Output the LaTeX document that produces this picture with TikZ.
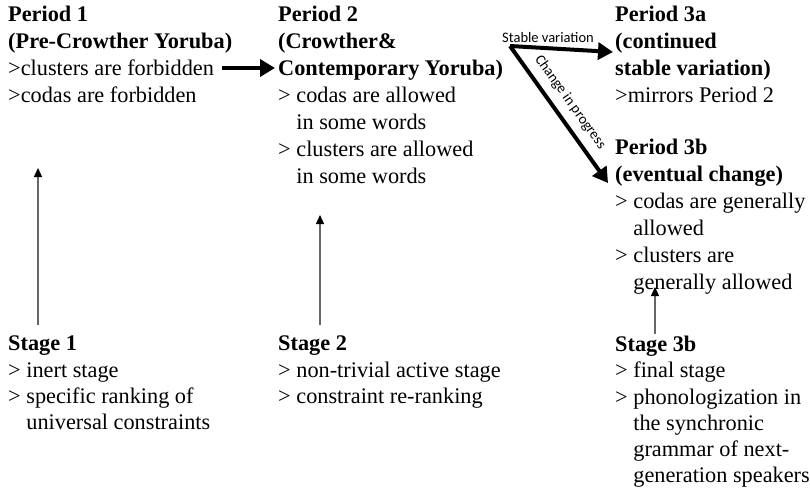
\documentclass[tikz,border=0pt]{standalone}
\usepackage{fontspec}
\setmainfont{Liberation Serif}
\newfontfamily\labelfont{Carlito}
\usetikzlibrary{%
	arrows.meta,
	positioning% wg. " of "
}
\tikzstyle{phase}=[anchor=north west, inner sep=0pt, align=left, font=\fontsize{22.3}{27}\selectfont]
\tikzstyle{stage}=[phase, font=\fontsize{22.3}{26.2}\selectfont]
\tikzstyle{push}=[draw, line width=4pt, -{Triangle[length=15pt,width=17pt]}]
\tikzstyle{rise}=[draw, line width=1.2pt, black!60, -{Triangle[length=9pt,width=8pt,black]}]
\tikzstyle{tag}=[font=\labelfont\fontsize{14.5}{16}\selectfont, inner sep=1pt]
\newcommand{\gap}{\hphantom{>\ }}

\begin{document}
\begin{tikzpicture}[x=1pt,y=-1pt]
	\useasboundingbox (0,0) rectangle (810,489);
	
	% First we draw the periods
	\node[phase] (p1) at (8,6) {\textbf{Period 1}\\\textbf{(Pre-Crowther Yoruba)}\\>clusters are forbidden\\>codas are forbidden};
	\node[phase] (p2) at (278,6) {\textbf{Period 2}\\\textbf{(Crowther\&}\\\textbf{Contemporary Yoruba)}\\> codas are allowed\\\gap in some words\\> clusters are allowed\\\gap in some words};
	\node[phase] (p3a) at (615,6) {\textbf{Period 3a}\\\textbf{(continued}\\\textbf{stable variation)}\\>mirrors Period 2};
	\node[phase] (p3b) at (615,139) {\textbf{Period 3b}\\\textbf{(eventual change)}\\> codas are generally\\\gap allowed\\> clusters are\\\gap generally allowed};
	
	% Then we draw the stages
	\node[stage] (s1) at (8,336) {\textbf{Stage 1}\\> inert stage\\> specific ranking of\\\gap universal constraints};
	\node[stage] (s2) at (278,336) {\textbf{Stage 2}\\> non-trivial active stage\\> constraint re-ranking};
	\node[stage] (s3b) at (615,336) {\textbf{Stage 3b}\\> final stage\\> phonologization in\\\gap the synchronic\\\gap grammar of next-\\\gap generation speakers};
	
	% Free ends of the connectors
	\coordinate (p1out) at (222,68);
	\coordinate (p2in) at (275,68);
	\coordinate (fork) at (510,46);
	\coordinate (p3ain) at (613,52);
	\coordinate (p3bin) at (608,183);
	\coordinate (s1up) at (38,325);
	\coordinate (p1foot) at (38,168);
	\coordinate (s2up) at (320,325);
	\coordinate (p2foot) at (320,215);
	\coordinate (s3bup) at (655,334);
	\coordinate (p3bfoot) at (655,287);
	
	% Connect periods with thick arrows
	\path[push] (p1out) to (p2in);
	\path[push] (fork) to (p3ain);
	\path[push] (fork) to node[tag, sloped, above=7pt, pos=0.48]{Change in progress} (p3bin);
	\node[tag] (stable) at (548,38) {Stable variation};
	
	% Connect stages to periods
	\foreach \source/ \dest in {s1up/p1foot, s2up/p2foot, s3bup/p3bfoot}
	\path[rise] (\source) to (\dest);
	
\end{tikzpicture}
\end{document}
